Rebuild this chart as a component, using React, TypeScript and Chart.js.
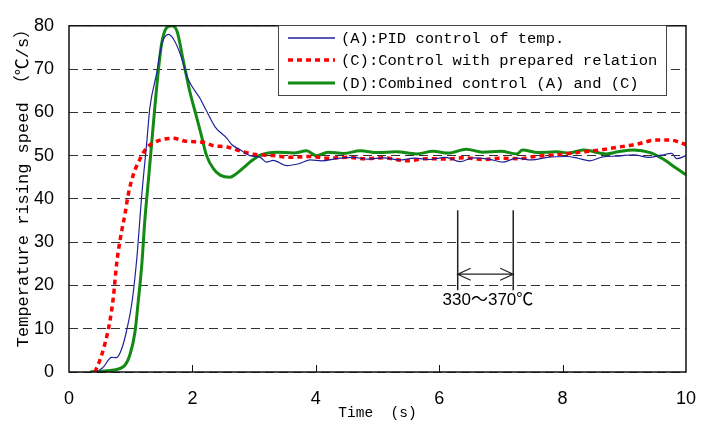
import React, { useEffect, useRef } from "react";
import { Chart, registerables } from "chart.js";

Chart.register(...registerables);

// ---- data ----
const seriesLabels = [
  "(A):PID control of temp.",
  "(C):Control with prepared relation",
  "(D):Combined control (A) and (C)",
];

const timeA = [0.45, 0.56, 0.69, 0.77, 0.85, 0.93, 1.02, 1.10, 1.18, 1.26, 1.31, 1.42, 1.50, 1.61, 1.69, 1.80, 1.93, 2.12, 2.23, 2.37, 2.56, 2.64, 2.77, 2.93, 3.10, 3.20, 3.31, 3.53, 3.74, 3.91, 4.1, 4.34, 4.6, 4.85, 5.1, 5.35, 5.6, 5.85, 6.1, 6.34, 6.55, 6.8, 7.04, 7.25, 7.5, 7.75, 8.07, 8.25, 8.44, 8.65, 8.9, 9.15, 9.4, 9.6, 9.77, 9.85, 10];
const speedA = [0, 1.2, 3.4, 3.3, 5.2, 9.3, 16, 26.4, 41, 53, 61, 69, 75.5, 78, 77, 73.6, 67.7, 63.3, 60.3, 56.6, 54, 52.5, 51.4, 50, 49.6, 48.5, 48.9, 47.7, 48.2, 49, 48.8, 49.3, 49.6, 49.2, 49.5, 49.0, 49.4, 49.1, 49.6, 48.6, 49.5, 49.2, 48.5, 49.4, 49.0, 49.6, 49.8, 49.4, 48.8, 49.7, 49.9, 50.2, 49.6, 50.1, 50.5, 49.3, 50];

const timeC = [0.42, 0.50, 0.58, 0.66, 0.72, 0.77, 0.83, 0.91, 0.96, 1.04, 1.15, 1.26, 1.42, 1.69, 1.90, 2.18, 2.34, 2.56, 2.77, 2.99, 3.31, 3.6, 3.9, 4.2, 4.5, 4.8, 5.1, 5.47, 5.8, 6.1, 6.4, 6.7, 7.0, 7.3, 7.55, 7.8, 8.05, 8.34, 8.6, 8.87, 9.19, 9.52, 9.74, 9.95, 10];
const speedC = [0, 2.7, 6.4, 11.5, 17.4, 24.8, 30.7, 36.7, 41, 45.5, 49.2, 51.8, 53.3, 54, 53.3, 53.1, 52.3, 52, 51.1, 50.3, 50, 49.6, 49.8, 49.4, 49.6, 49.3, 49.5, 48.8, 49.3, 49.2, 49.5, 49.1, 49.4, 49.3, 49.8, 50.1, 50.4, 50.9, 51.3, 51.9, 52.6, 53.6, 53.6, 52.8, 52.5];

const timeD = [0.34, 0.61, 0.88, 0.99, 1.07, 1.12, 1.18, 1.23, 1.29, 1.34, 1.39, 1.45, 1.50, 1.58, 1.66, 1.75, 1.85, 1.96, 2.07, 2.15, 2.23, 2.34, 2.45, 2.61, 2.72, 2.82, 2.96, 3.10, 3.37, 3.64, 3.85, 4.01, 4.2, 4.45, 4.72, 5.0, 5.3, 5.63, 5.9, 6.15, 6.44, 6.7, 7.0, 7.26, 7.35, 7.6, 7.9, 8.1, 8.34, 8.71, 8.9, 9.15, 9.42, 9.63, 9.85, 10];
const speedD = [0, 0.3, 1.2, 4.1, 9.3, 16, 24.8, 35.2, 44.8, 52.9, 61, 69.9, 75.8, 79.5, 80, 78.8, 72.1, 64.7, 58.8, 54.4, 50, 47, 45.5, 45, 45.9, 47.1, 48.8, 50.1, 50.8, 50.6, 51.1, 50.0, 50.8, 50.5, 51.1, 50.7, 50.9, 50.4, 51.0, 50.6, 51.5, 50.8, 51.0, 50.4, 51.3, 50.7, 50.9, 50.6, 51.3, 50.4, 50.9, 51.3, 50.7, 49.2, 47.0, 45.6];

const xRange = [0, 10];
const yRange = [0, 80];
const xStep = 2;
const yStep = 10;

// annotation (data units)
const bracketX = [6.3, 7.2];
const bracketY = [18.9, 37.4];
const arrowY = 22.6;
const bracketLabel = "330〜370℃";
const bracketLabelAt = [6.79, 16.5];

const xTitle = "Time  (s)";
const yTitle = "Temperature rising speed （℃/s）";

const colors = ["#20209a", "#ff0000", "#138a13"];

const MONO = "'Liberation Mono', 'Noto Sans CJK JP', monospace";
const SANS = "'Liberation Sans', 'Noto Sans CJK JP', sans-serif";
const NARROW = "'Liberation Sans Narrow', 'Liberation Sans', sans-serif";

const toPoints = (xs: number[], ys: number[]) => xs.map((x, i) => ({ x, y: ys[i] }));

const overlay = {
  id: "overlay",
  afterDraw(chart: any) {
    const { ctx, chartArea: a, scales } = chart;
    const sx = scales.x;
    const sy = scales.y;
    ctx.save();
    ctx.setLineDash([]);

    // frame
    ctx.strokeStyle = "#111";
    ctx.lineWidth = 1.5;
    ctx.strokeRect(a.left, a.top, a.right - a.left, a.bottom - a.top);

    // inward x tick marks
    ctx.lineWidth = 1;
    for (let v = xRange[0] + xStep; v < xRange[1]; v += xStep) {
      const px = Math.round(sx.getPixelForValue(v)) + 0.5;
      ctx.beginPath();
      ctx.moveTo(px, a.bottom);
      ctx.lineTo(px, a.bottom - 7);
      ctx.stroke();
    }

    // bracket annotation
    ctx.strokeStyle = "#222";
    ctx.lineWidth = 1.5;
    const x1 = sx.getPixelForValue(bracketX[0]);
    const x2 = sx.getPixelForValue(bracketX[1]);
    const yt = sy.getPixelForValue(bracketY[1]);
    const yb = sy.getPixelForValue(bracketY[0]);
    const ya = sy.getPixelForValue(arrowY);
    ctx.beginPath();
    ctx.moveTo(x1, yt); ctx.lineTo(x1, yb);
    ctx.moveTo(x2, yt); ctx.lineTo(x2, yb);
    ctx.stroke();
    ctx.lineWidth = 1.2;
    ctx.beginPath();
    ctx.moveTo(x1, ya); ctx.lineTo(x2, ya);
    ctx.moveTo(x1 + 13, ya - 6); ctx.lineTo(x1, ya); ctx.lineTo(x1 + 13, ya + 6);
    ctx.moveTo(x2 - 13, ya - 6); ctx.lineTo(x2, ya); ctx.lineTo(x2 - 13, ya + 6);
    ctx.stroke();
    ctx.fillStyle = "#000";
    ctx.font = `17px ${SANS}`;
    ctx.textAlign = "center";
    ctx.textBaseline = "middle";
    ctx.fillText(bracketLabel, sx.getPixelForValue(bracketLabelAt[0]), sy.getPixelForValue(bracketLabelAt[1]));

    // legend
    const lx = 278, ly = 25, lw = 388, lh = 70;
    ctx.fillStyle = "#fff";
    ctx.fillRect(lx, ly, lw, lh);
    ctx.strokeStyle = "#444";
    ctx.lineWidth = 1;
    ctx.strokeRect(lx + 0.5, ly + 0.5, lw, lh);
    const rows = [38, 60, 83];
    const widths = [1.3, 3.5, 3];
    seriesLabels.forEach((lab, i) => {
      ctx.strokeStyle = colors[i];
      ctx.lineWidth = widths[i];
      ctx.setLineDash(i === 1 ? [5, 4] : []);
      ctx.beginPath();
      ctx.moveTo(288, rows[i]);
      ctx.lineTo(335, rows[i]);
      ctx.stroke();
      ctx.setLineDash([]);
      ctx.fillStyle = "#000";
      ctx.font = `15.5px ${MONO}`;
      ctx.textAlign = "left";
      ctx.textBaseline = "middle";
      ctx.fillText(lab, 341, rows[i] + 1);
    });

    // axis titles
    ctx.fillStyle = "#000";
    ctx.font = `14.5px ${MONO}`;
    ctx.textAlign = "center";
    ctx.textBaseline = "middle";
    ctx.fillText(xTitle, (a.left + a.right) / 2, 413);
    ctx.save();
    ctx.translate(23, 184);
    ctx.rotate(-Math.PI / 2);
    ctx.font = `17px ${MONO}`;
    ctx.fillText(yTitle, 0, 0);
    ctx.restore();

    ctx.restore();
  },
};

export default function App() {
  const ref = useRef<HTMLCanvasElement>(null);
  useEffect(() => {
    document.body.style.margin = "0";
    const chart = new Chart(ref.current as HTMLCanvasElement, {
      type: "line",
      data: {
        datasets: [
          {
            label: seriesLabels[0],
            data: toPoints(timeA, speedA),
            borderColor: colors[0],
            borderWidth: 1.2,
            pointRadius: 0,
            cubicInterpolationMode: "monotone",
            fill: false,
          },
          {
            label: seriesLabels[1],
            data: toPoints(timeC, speedC),
            borderColor: colors[1],
            borderWidth: 3.5,
            borderDash: [5, 4],
            pointRadius: 0,
            cubicInterpolationMode: "monotone",
            fill: false,
          },
          {
            label: seriesLabels[2],
            data: toPoints(timeD, speedD),
            borderColor: colors[2],
            borderWidth: 3,
            pointRadius: 0,
            cubicInterpolationMode: "monotone",
            fill: false,
          },
        ],
      },
      options: {
        animation: false,
        responsive: false,
        layout: { padding: { top: 11, right: 26, left: 0, bottom: 0 } },
        plugins: { legend: { display: false }, tooltip: { enabled: false } },
        scales: {
          x: {
            type: "linear",
            min: xRange[0],
            max: xRange[1],
            afterFit: (s: any) => { s.height = 55; },
            ticks: { stepSize: xStep, padding: 16, color: "#000", font: { family: NARROW, size: 18 } },
            grid: { display: false, drawTicks: false },
            border: { display: false },
          },
          y: {
            min: yRange[0],
            max: yRange[1],
            afterFit: (s: any) => { s.width = 69; },
            ticks: { stepSize: yStep, padding: 15, color: "#000", font: { family: NARROW, size: 18 } },
            grid: { color: "#333", lineWidth: 1, drawTicks: false },
            border: { display: false, dash: [9, 5] },
          },
        },
      },
      plugins: [overlay],
    } as any);
    return () => chart.destroy();
  }, []);
  return <canvas ref={ref} width={712} height={427} style={{ display: "block" }} />;
}
